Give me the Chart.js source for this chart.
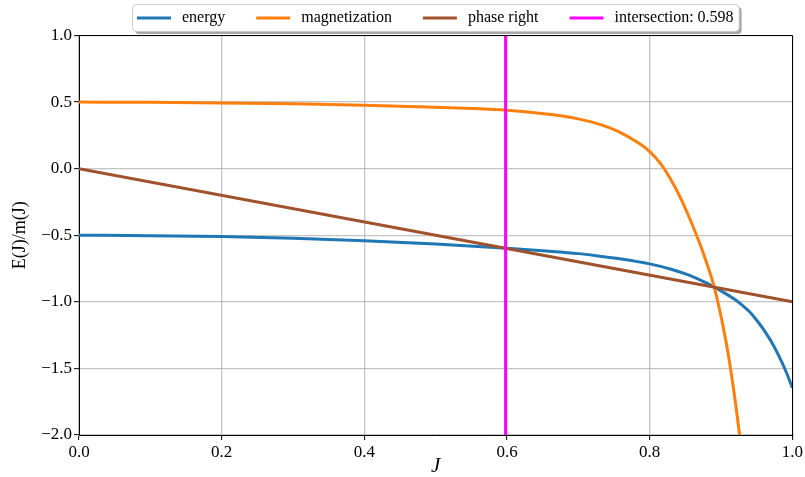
<!DOCTYPE html>
<html>
<head>
<meta charset="utf-8">
<script src="https://cdn.jsdelivr.net/npm/chart.js@4.4.0/dist/chart.umd.min.js"></script>
<style>
  body { margin: 0; background: #fff; }
  #wrap { width: 805px; height: 477px; }
</style>
</head>
<body>
<div id="wrap"><canvas id="phaseChart" width="805" height="477"></canvas></div>
<script>
// curves read as (J, value) pairs
const energyJ = [0, 0.1, 0.2, 0.3, 0.4, 0.5, 0.6, 0.65, 0.7, 0.73, 0.76, 0.8, 0.83, 0.855, 0.88, 0.9, 0.92, 0.93, 0.94, 0.95, 0.96, 0.97, 0.98, 0.99, 1.0];
const energyValues = [-0.5, -0.503, -0.51, -0.523, -0.541, -0.566, -0.598, -0.617, -0.638, -0.657, -0.678, -0.715, -0.755, -0.8, -0.86, -0.918, -0.985, -1.027, -1.075, -1.138, -1.21, -1.295, -1.395, -1.51, -1.645];

const magnetizationJ = [0, 0.1, 0.2, 0.3, 0.4, 0.5, 0.55, 0.6, 0.645, 0.675, 0.7, 0.73, 0.755, 0.785, 0.8, 0.815, 0.83, 0.845, 0.86, 0.87, 0.88, 0.89, 0.9, 0.91, 0.92, 0.926, 0.935];
const magnetizationValues = [0.5, 0.498, 0.494, 0.487, 0.477, 0.462, 0.452, 0.438, 0.417, 0.398, 0.374, 0.333, 0.282, 0.19, 0.128, 0.04, -0.085, -0.24, -0.425, -0.56, -0.71, -0.88, -1.11, -1.39, -1.75, -2.0, -2.45];

const phaseJ = [0, 0.5, 1];
const phaseValues = [0, -0.5, -1];

const intersectionJ = 0.598;
const intersectionSpan = [-2, 1];

const xTicks = [0, 0.2, 0.4, 0.6, 0.8, 1.0];
const yTicks = [-2, -1.5, -1, -0.5, 0, 0.5, 1];

const serif = '"Liberation Serif", "DejaVu Serif", serif';

function toPoints(xs, ys) {
    return xs.map((x, i) => ({ x: x, y: ys[i] }));
}

function fmt(v) {
    return v.toFixed(1).replace('-', '\u2212');
}

function align(p) {
    return Math.round(p - 0.5) + 0.5;
}

function roundedRect(ctx, x, y, w, h, r) {
    ctx.beginPath();
    ctx.moveTo(x + r, y);
    ctx.lineTo(x + w - r, y);
    ctx.arcTo(x + w, y, x + w, y + r, r);
    ctx.lineTo(x + w, y + h - r);
    ctx.arcTo(x + w, y + h, x + w - r, y + h, r);
    ctx.lineTo(x + r, y + h);
    ctx.arcTo(x, y + h, x, y + h - r, r);
    ctx.lineTo(x, y + r);
    ctx.arcTo(x, y, x + r, y, r);
    ctx.closePath();
}

// top and right spines (left/bottom come from the axis borders)
const frame = {
    id: 'frame',
    afterDatasetsDraw(chart) {
        const { ctx, chartArea: a } = chart;
        const top = align(a.top), right = align(a.right);
        ctx.save();
        ctx.strokeStyle = '#000';
        ctx.lineWidth = 1;
        ctx.beginPath();
        ctx.moveTo(align(a.left), top);
        ctx.lineTo(right, top);
        ctx.lineTo(right, align(a.bottom));
        ctx.stroke();
        ctx.restore();
    }
};

// single-row legend in a rounded box with a drop shadow, above the plot
const boxedLegend = {
    id: 'boxedLegend',
    afterDraw(chart) {
        const { ctx, chartArea: a } = chart;
        const sets = chart.data.datasets;
        const lineLen = 34, gap = 11, spacing = 31, padL = 5, padR = 5;
        ctx.save();
        ctx.font = '16px ' + serif;
        const widths = sets.map(d => ctx.measureText(d.label).width);
        let total = padL + padR + spacing * (sets.length - 1);
        widths.forEach(w => { total += lineLen + gap + w; });
        const left = Math.round((a.left + a.right) / 2 - total / 2);
        const top = 4, h = 27;

        ctx.fillStyle = 'rgba(80,80,80,0.5)';
        roundedRect(ctx, left + 3, top + 3, total, h, 4);
        ctx.fill();
        ctx.fillStyle = '#fff';
        ctx.strokeStyle = '#cccccc';
        ctx.lineWidth = 1;
        roundedRect(ctx, left + 0.5, top + 0.5, total, h, 4);
        ctx.fill();
        ctx.stroke();

        const cy = top + h / 2 + 0.5;
        let x = left + padL;
        ctx.textBaseline = 'middle';
        sets.forEach((d, i) => {
            ctx.strokeStyle = d.borderColor;
            ctx.lineWidth = 3;
            ctx.beginPath();
            ctx.moveTo(x, cy);
            ctx.lineTo(x + lineLen, cy);
            ctx.stroke();
            ctx.fillStyle = '#000';
            ctx.fillText(d.label, x + lineLen + gap, cy);
            x += lineLen + gap + widths[i] + spacing;
        });
        ctx.restore();
    }
};

const line = (label, color, data, order) => ({
    label: label,
    data: data,
    borderColor: color,
    backgroundColor: color,
    borderWidth: 3,
    pointRadius: 0,
    cubicInterpolationMode: 'monotone',
    order: order
});

const gridOpts = {
    color: 'rgba(176,176,176,0.75)',
    lineWidth: 1.3,
    tickColor: '#000',
    tickLength: 5,
    tickWidth: 1
};

new Chart(document.getElementById('phaseChart').getContext('2d'), {
    type: 'line',
    data: {
        datasets: [
            line('energy', '#1f77b4', toPoints(energyJ, energyValues), 3),
            line('magnetization', '#ff7f0e', toPoints(magnetizationJ, magnetizationValues), 2),
            line('phase right', '#a0522d', toPoints(phaseJ, phaseValues), 1),
            line('intersection: ' + intersectionJ.toFixed(3), '#ff00ff',
                toPoints([intersectionJ, intersectionJ], intersectionSpan), 0)
        ]
    },
    options: {
        responsive: false,
        animation: false,
        layout: { padding: { top: 35.5, right: 11.5, left: 0, bottom: 0 } },
        plugins: {
            legend: { display: false },
            tooltip: { enabled: false }
        },
        scales: {
            x: {
                type: 'linear',
                min: 0,
                max: 1,
                afterBuildTicks: s => { s.ticks = xTicks.map(v => ({ value: v })); },
                afterFit: s => { s.height = 42; },
                ticks: {
                    callback: v => fmt(v),
                    color: '#000',
                    font: { family: serif, size: 17 },
                    padding: 2,
                    maxRotation: 0
                },
                grid: gridOpts,
                border: { color: '#000', width: 1 },
                title: {
                    display: true,
                    text: 'J',
                    color: '#000',
                    font: { family: serif, size: 21, style: 'italic', lineHeight: 1 },
                    padding: { top: 0, bottom: 0 }
                }
            },
            y: {
                type: 'linear',
                min: -2,
                max: 1,
                afterBuildTicks: s => { s.ticks = yTicks.map(v => ({ value: v })); },
                afterFit: s => { s.width = 79; },
                ticks: {
                    callback: v => fmt(v),
                    color: '#000',
                    font: { family: serif, size: 17 },
                    padding: 2
                },
                grid: gridOpts,
                border: { color: '#000', width: 1 },
                title: {
                    display: true,
                    text: 'E(J)/m(J)',
                    color: '#000',
                    font: { family: serif, size: 18, lineHeight: 1 },
                    padding: { top: 11, bottom: 11 }
                }
            }
        }
    },
    plugins: [frame, boxedLegend]
});
</script>
</body>
</html>
